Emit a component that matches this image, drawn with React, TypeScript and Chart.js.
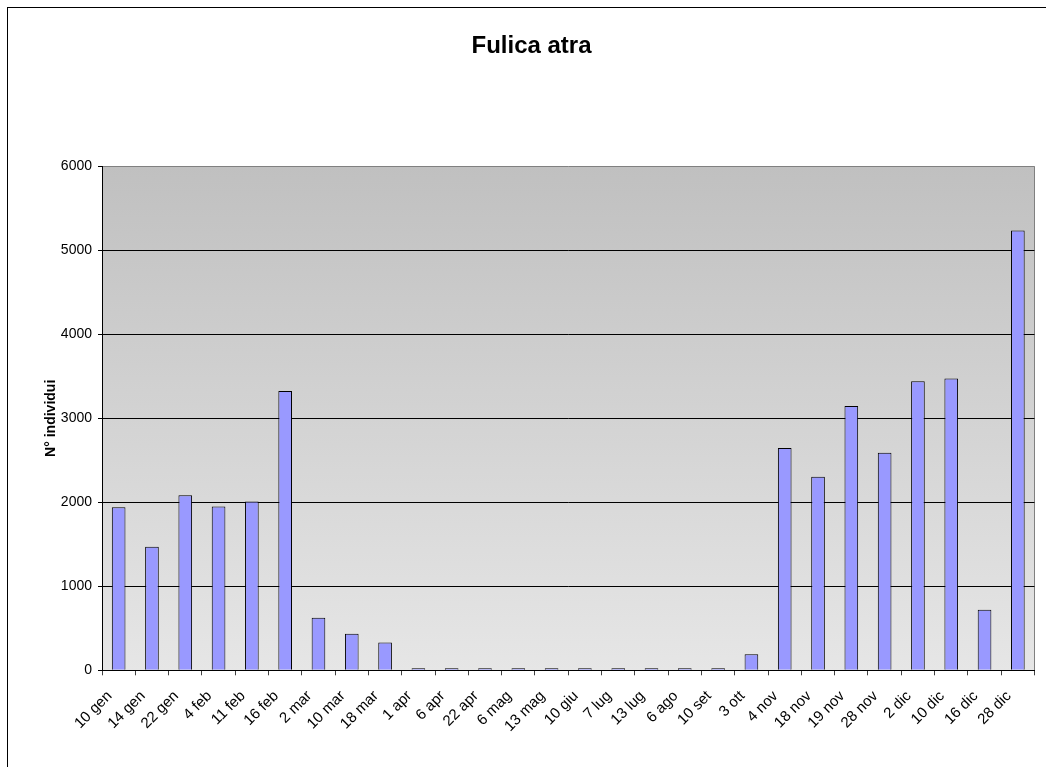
import React, { useEffect, useRef } from "react";
import { Chart, registerables } from "chart.js";

Chart.register(...registerables);

const TITLE = "Fulica atra";
const Y_TITLE = "N° individui";

const categories = [
  "10 gen", "14 gen", "22 gen", "4 feb", "11 feb", "16 feb", "2 mar", "10 mar",
  "18 mar", "1 apr", "6 apr", "22 apr", "6 mag", "13 mag", "10 giu", "7 lug",
  "13 lug", "6 ago", "10 set", "3 ott", "4 nov", "18 nov", "19 nov", "28 nov",
  "2 dic", "10 dic", "16 dic", "28 dic",
];

const values = [
  1940, 1470, 2085, 1950, 2010, 3325, 625, 435,
  330, 10, 25, 10, 10, 10, 10, 10,
  10, 10, 10, 190, 2645, 2305, 3145, 2590,
  3440, 3475, 720, 5235,
];

const yTicks = [0, 1000, 2000, 3000, 4000, 5000, 6000];

const FONT = "'Liberation Sans', Arial, Helvetica, sans-serif";
const W = 1063;
const H = 767;

export default function App() {
  const ref = useRef<HTMLCanvasElement | null>(null);

  useEffect(() => {
    document.body.style.overflow = "hidden";
    document.documentElement.style.overflow = "hidden";
    const canvas = ref.current;
    if (!canvas) return;

    const bgPlugin = {
      id: "bgPlugin",
      beforeDraw(chart: any) {
        const { ctx, chartArea: a, width, height } = chart;
        ctx.save();
        ctx.fillStyle = "#ffffff";
        ctx.fillRect(0, 0, width, height);
        ctx.strokeStyle = "#000000";
        ctx.lineWidth = 1;
        ctx.strokeRect(7.5, 7.5, width + 100, height + 100);
        const g = ctx.createLinearGradient(0, a.top, 0, a.bottom);
        g.addColorStop(0, "#c0c0c0");
        g.addColorStop(1, "#e6e6e6");
        ctx.fillStyle = g;
        ctx.fillRect(a.left, a.top, a.right - a.left, a.bottom - a.top);
        ctx.strokeStyle = "#808080";
        ctx.beginPath();
        ctx.moveTo(a.right, a.top);
        ctx.lineTo(a.right, a.bottom);
        ctx.stroke();
        ctx.restore();
      },
    };

    const chart = new Chart(canvas, {
      type: "bar",
      data: {
        labels: categories,
        datasets: [
          {
            data: values,
            backgroundColor: "#9999ff",
            borderColor: "#000000",
            borderWidth: 1,
            categoryPercentage: 1,
            barPercentage: 0.41,
            minBarLength: 2,
          },
        ],
      },
      options: {
        responsive: false,
        animation: false,
        devicePixelRatio: 1,
        layout: { padding: 0 },
        plugins: {
          legend: { display: false },
          tooltip: { enabled: false },
          title: {
            display: true,
            text: TITLE,
            color: "#000000",
            font: { family: FONT, size: 24, weight: "bold" },
            padding: { top: 32, bottom: 105.5 },
          },
        },
        scales: {
          x: {
            grid: {
              display: true,
              drawOnChartArea: false,
              drawTicks: true,
              tickLength: 5,
              tickColor: "#404040",
              offset: true,
            },
            border: { color: "#000000" },
            ticks: {
              autoSkip: false,
              minRotation: 45,
              maxRotation: 45,
              color: "#000000",
              font: { family: FONT, size: 15 },
              padding: 12,
              labelOffset: -9,
            },
            afterFit(s: any) {
              s.height = H - 670.3;
            },
          },
          y: {
            min: 0,
            max: 6000,
            afterBuildTicks(s: any) {
              s.ticks = yTicks.map((v) => ({ value: v }));
            },
            ticks: {
              color: "#000000",
              font: { family: FONT, size: 14 },
              padding: 6,
              callback: (v: any) => String(v),
            },
            grid: {
              color: (c: any) => (c.tick && c.tick.value === 6000 ? "#808080" : "#000000"),
              tickColor: "#000000",
              tickLength: 4,
              lineWidth: 1,
            },
            border: { color: "#000000" },
            title: {
              display: true,
              text: Y_TITLE,
              color: "#000000",
              font: { family: FONT, size: 14, weight: "bold" },
              padding: { top: 43, bottom: 0 },
            },
            afterFit(s: any) {
              s.width = 102;
            },
          },
          yRight: {
            position: "right",
            display: true,
            grid: { display: false },
            border: { display: false },
            ticks: { display: false },
            afterFit(s: any) {
              s.width = W - 1034.5;
            },
          },
        },
      },
      plugins: [bgPlugin],
    } as any);

    return () => {
      chart.destroy();
    };
  }, []);

  return (
    <div style={{ position: "fixed", left: 0, top: 0, width: W, height: H }}>
      <canvas ref={ref} width={W} height={H} style={{ display: "block", width: W, height: H }} />
    </div>
  );
}
